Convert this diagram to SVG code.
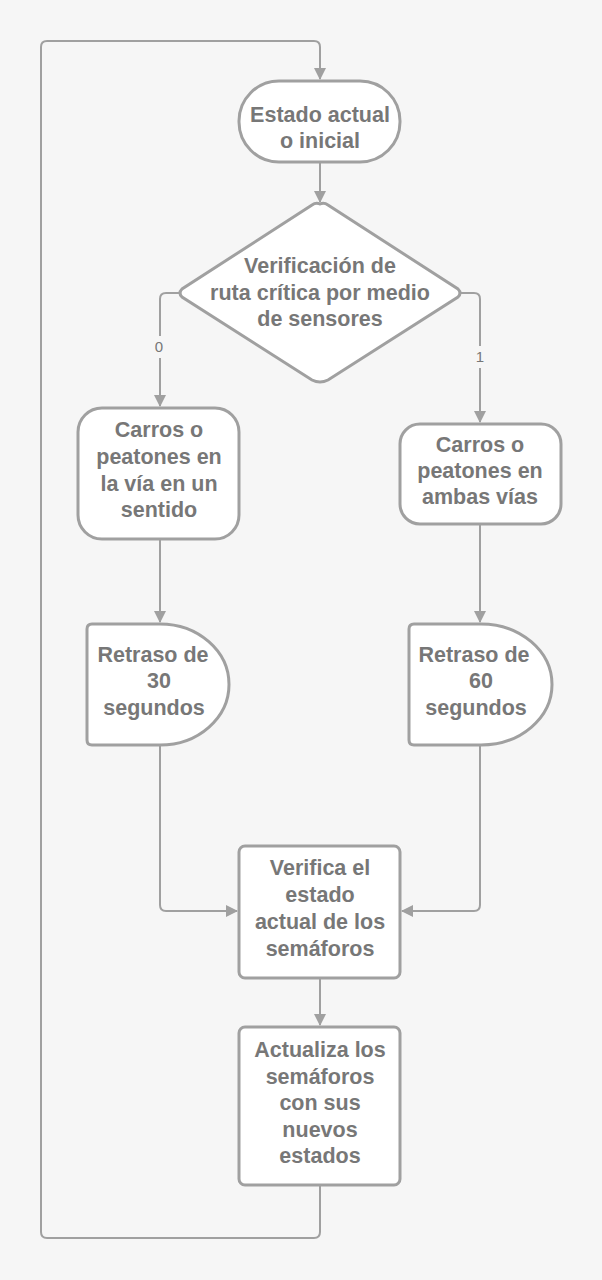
<svg xmlns="http://www.w3.org/2000/svg" width="602" height="1280" viewBox="0 0 602 1280">
<defs>
<marker id="ah" markerWidth="12" markerHeight="12" refX="11" refY="6" orient="auto" markerUnits="userSpaceOnUse">
<path d="M0,0 L12,6 L0,12 Z" fill="#a0a0a0"/>
</marker>
<style>
.n{fill:#ffffff;stroke:#a0a0a0;stroke-width:3}
.t{font-family:"Liberation Sans",Arial,sans-serif;font-weight:bold;font-size:21.5px;fill:#777777;text-anchor:middle}
.l{font-family:"Liberation Sans",Arial,sans-serif;font-size:15px;fill:#777777;text-anchor:middle}
.c{fill:none;stroke:#a0a0a0;stroke-width:2;stroke-linejoin:round}
</style>
</defs>
<rect width="602" height="1280" fill="#f6f6f6"/>
<g id="connectors">
<path class="c" d="M320,1186 V1232 Q320,1238 314,1238 H47 Q41,1238 41,1232 V47 Q41,41 47,41 H314 Q320,41 320,47 V79" marker-end="url(#ah)"/>
<path class="c" d="M320,163 V202" marker-end="url(#ah)"/>
<path class="c" d="M180,293 H166 Q160,293 160,299 V336 M160,358 V406" marker-end="url(#ah)"/>
<path class="c" d="M460,293 H474 Q480,293 480,299 V346 M480,368 V422" marker-end="url(#ah)"/>
<path class="c" d="M160,540 V622" marker-end="url(#ah)"/>
<path class="c" d="M480,525 V622" marker-end="url(#ah)"/>
<path class="c" d="M160,746 V905 Q160,911 166,911 H237" marker-end="url(#ah)"/>
<path class="c" d="M480,746 V905 Q480,911 474,911 H402" marker-end="url(#ah)"/>
<path class="c" d="M320,979 V1025" marker-end="url(#ah)"/>
<text class="l" x="159" y="352">0</text>
<text class="l" x="480" y="362">1</text>
</g>
<g id="start">
<rect class="n" x="239" y="81" width="161" height="81" rx="40"/>
<text class="t" x="320" y="122">Estado actual</text>
<text class="t" x="320" y="148">o inicial</text>
</g>
<g id="decision">
<path class="n" d="M320,204 Q324,202 328,205 L458,289 Q462,293 458,297 L328,380 Q320,384 312,380 L182,297 Q178,293 182,289 L312,205 Q316,202 320,204 Z"/>
<text class="t" x="320" y="273">Verificación de</text>
<text class="t" x="320" y="300">ruta crítica por medio</text>
<text class="t" x="320" y="326">de sensores</text>
</g>
<g id="oneway">
<rect class="n" x="78" y="408" width="161" height="131" rx="24"/>
<text class="t" x="159" y="437">Carros o</text>
<text class="t" x="159" y="464">peatones en</text>
<text class="t" x="159" y="491">la vía en un</text>
<text class="t" x="159" y="517">sentido</text>
</g>
<g id="bothways">
<rect class="n" x="400" y="424" width="161" height="100" rx="20"/>
<text class="t" x="480" y="452">Carros o</text>
<text class="t" x="480" y="478">peatones en</text>
<text class="t" x="480" y="504">ambas vías</text>
</g>
<g id="delay30">
<path class="n" d="M92,624 H160 A69,60.5 0 0 1 160,745 H92 Q87,745 87,740 V629 Q87,624 92,624 Z"/>
<text class="t" x="153" y="662">Retraso de</text>
<text class="t" x="159" y="688">30</text>
<text class="t" x="154" y="715">segundos</text>
</g>
<g id="delay60">
<path class="n" d="M414,624 H481 A71,60.5 0 0 1 481,745 H414 Q409,745 409,740 V629 Q409,624 414,624 Z"/>
<text class="t" x="474" y="662">Retraso de</text>
<text class="t" x="481" y="688">60</text>
<text class="t" x="476" y="715">segundos</text>
</g>
<g id="verify">
<rect class="n" x="239" y="846" width="161" height="132" rx="6"/>
<text class="t" x="320" y="875">Verifica el</text>
<text class="t" x="320" y="902">estado</text>
<text class="t" x="320" y="929">actual de los</text>
<text class="t" x="320" y="956">semáforos</text>
</g>
<g id="update">
<rect class="n" x="239" y="1027" width="161" height="158" rx="6"/>
<text class="t" x="320" y="1057">Actualiza los</text>
<text class="t" x="320" y="1084">semáforos</text>
<text class="t" x="320" y="1110">con sus</text>
<text class="t" x="320" y="1137">nuevos</text>
<text class="t" x="320" y="1163">estados</text>
</g>
</svg>
